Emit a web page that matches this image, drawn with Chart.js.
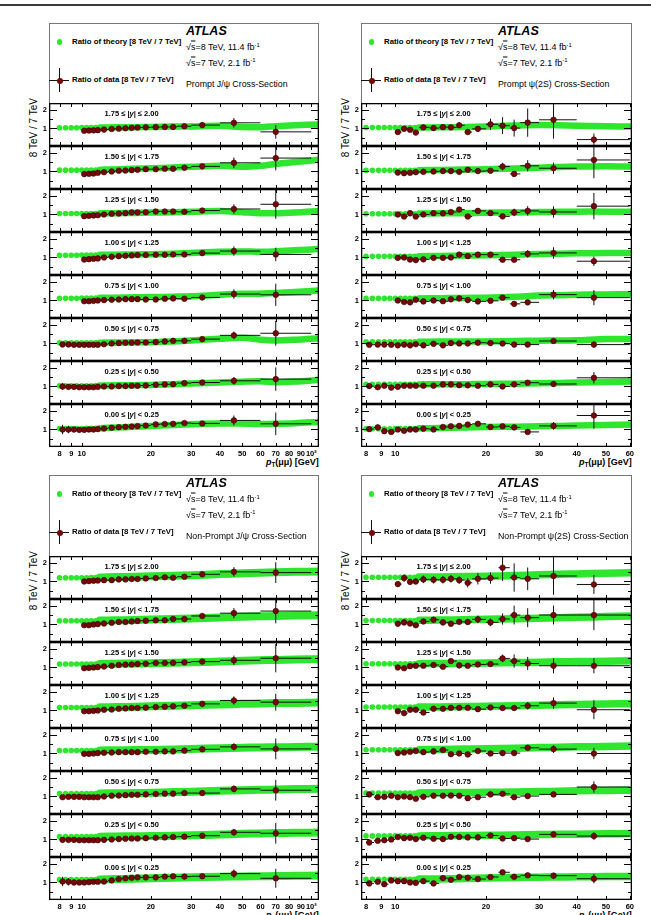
<!DOCTYPE html>
<html>
<head>
<meta charset="utf-8">
<script src="https://cdn.jsdelivr.net/npm/chart.js@4"></script>
<style>
  body { margin: 0; background: #fff; }
  #page { position: relative; width: 651px; height: 915px; overflow: hidden; font-family: "Liberation Sans", Arial, Helvetica, sans-serif; color: #000; }
  .t { position: absolute; white-space: nowrap; line-height: 1; transform: translateY(-50%); }
  canvas { position: absolute; }
  sup { font-size: 65%; vertical-align: 0; position: relative; top: -0.55em; }
</style>
</head>
<body>
<div id="page"></div>
<script>
// rapidity slices, top row first
const rapidityLow = ["1.75", "1.50", "1.25", "1.00", "0.75", "0.50", "0.25", "0.00"];
const rapidityHigh = ["2.00", "1.75", "1.50", "1.25", "1.00", "0.75", "0.50", "0.25"];

// pT bins (GeV)
const jpsiPt = [8.25, 8.75, 9.25, 9.75, 10.25, 10.75, 11.25, 11.75, 12.5, 13.5, 14.5, 15.5, 16.5, 17.5, 19, 21, 23, 25, 28, 33.5, 46, 70];
const jpsiPtLow = [8, 8.5, 9, 9.5, 10, 10.5, 11, 11.5, 12, 13, 14, 15, 16, 17, 18, 20, 22, 24, 26, 30, 40, 60];
const jpsiPtHigh = [8.5, 9, 9.5, 10, 10.5, 11, 11.5, 12, 13, 14, 15, 16, 17, 18, 20, 22, 24, 26, 30, 40, 60, 100];
const psiPt = [8.2, 8.75, 9.2, 9.7, 10.2, 10.7, 11.2, 11.7, 12.4, 13.4, 14.4, 15.3, 16.3, 17.4, 18.8, 20.7, 22.7, 24.8, 27.5, 33.5, 45.6];
const psiPtLow = [8, 8.5, 9, 9.5, 10, 10.5, 11, 11.5, 12, 13, 14, 15, 16, 17, 18, 20, 22, 24, 26, 30, 40];
const psiPtHigh = [8.5, 9, 9.5, 10, 10.5, 11, 11.5, 12, 13, 14, 15, 16, 17, 18, 20, 22, 24, 26, 30, 40, 60];

// pT nodes of the theory ratio
const jpsiTheoryPt = [8, 8.5, 9, 9.5, 10, 10.5, 11, 11.5, 12, 14, 17, 20, 25, 30, 40, 50, 60, 70, 85, 108];
const psiTheoryPt = [8, 8.4, 8.8, 9.2, 9.6, 10, 10.4, 10.8, 11.2, 11.6, 12, 14, 17, 20, 25, 30, 35, 40, 50, 61];

const jpsiTicks = [8, 9, 10, 20, 30, 40, 50, 60, 70, 80, 90, 100];
const psiTicks = [8, 9, 10, 20, 30, 40, 50, 60];
const ratioTicks = [1, 2];

const n = null;

// Prompt J/psi
const promptJpsiRatio = [
  [n, n, n, n, 0.88, 0.89, 0.90, 0.91, 0.94, 0.97, 0.99, 1.01, 1.03, 1.05, 1.06, 1.07, 1.08, 1.08, 1.12, 1.18, 1.30, 0.82],
  [n, n, n, n, 0.86, 0.875, 0.89, 0.93, 0.96, 1.0, 1.04, 1.05, 1.07, 1.09, 1.12, 1.12, 1.14, 1.14, 1.20, 1.27, 1.46, 1.71],
  [n, n, n, n, 0.91, 0.93, 0.95, 0.96, 1.0, 1.04, 1.05, 1.07, 1.11, 1.11, 1.12, 1.16, 1.16, 1.16, 1.14, 1.21, 1.29, 1.54],
  [n, n, n, n, 0.89, 0.91, 0.93, 0.95, 1.0, 1.04, 1.07, 1.09, 1.11, 1.13, 1.13, 1.14, 1.14, 1.16, 1.16, 1.23, 1.34, 1.16],
  [n, n, n, n, 0.96, 0.96, 0.98, 1.0, 1.02, 1.04, 1.05, 1.07, 1.07, 1.07, 1.05, 1.05, 1.09, 1.11, 1.09, 1.16, 1.34, 1.30],
  [0.95, 0.95, 0.93, 0.93, 0.93, 0.93, 0.93, 0.93, 0.96, 1.0, 1.02, 1.04, 1.04, 1.05, 1.05, 1.07, 1.11, 1.14, 1.14, 1.23, 1.43, 1.54],
  [1.0, 0.98, 0.98, 0.96, 0.96, 0.96, 0.96, 0.98, 1.0, 1.0, 1.02, 1.02, 1.04, 1.04, 1.05, 1.09, 1.11, 1.12, 1.18, 1.21, 1.30, 1.39],
  [1.0, 1.0, 1.0, 0.98, 0.98, 1.0, 1.0, 1.02, 1.05, 1.09, 1.12, 1.14, 1.16, 1.18, 1.21, 1.27, 1.29, 1.30, 1.34, 1.32, 1.48, 1.30],
];
const promptJpsiErr = [
  [0, 0, 0, 0, .03, .03, .03, .03, .03, .03, .03, .03, .04, .04, .04, .05, .05, .06, .07, .14, .25, .36],
  [0, 0, 0, 0, .03, .03, .03, .03, .03, .03, .03, .04, .04, .04, .04, .05, .05, .06, .07, .10, .28, .65],
  [0, 0, 0, 0, .03, .03, .03, .03, .03, .03, .03, .04, .04, .04, .04, .05, .05, .05, .06, .10, .25, .77],
  [0, 0, 0, 0, .03, .03, .03, .03, .03, .03, .03, .04, .04, .04, .04, .05, .05, .05, .06, .10, .25, .36],
  [0, 0, 0, 0, .03, .03, .03, .03, .03, .03, .03, .04, .04, .04, .04, .05, .05, .05, .06, .09, .25, .59],
  [.06, .06, .05, .05, .04, .04, .04, .04, .03, .03, .03, .03, .03, .04, .04, .04, .05, .05, .06, .08, .20, .66],
  [.18, .14, .12, .10, .08, .07, .06, .05, .04, .04, .04, .04, .04, .04, .04, .05, .05, .05, .06, .08, .20, .62],
  [.25, .20, .15, .12, .10, .08, .07, .06, .05, .05, .04, .04, .04, .04, .04, .05, .05, .05, .06, .08, .26, .60],
];
const promptJpsiTheory = [
  [1.04, 1.04, 1.04, 1.04, 1.05, 1.05, 1.05, 1.05, 1.05, 1.06, 1.07, 1.08, 1.10, 1.11, 1.14, 1.08, 1.07, 1.12, 1.17, 1.21],
  [1.07, 1.07, 1.07, 1.07, 1.08, 1.08, 1.08, 1.08, 1.09, 1.11, 1.14, 1.17, 1.21, 1.25, 1.30, 1.25, 1.30, 1.40, 1.50, 1.62],
  [1.05, 1.05, 1.05, 1.05, 1.05, 1.05, 1.05, 1.05, 1.06, 1.07, 1.08, 1.10, 1.12, 1.14, 1.18, 1.12, 1.07, 1.06, 1.10, 1.18],
  [1.12, 1.12, 1.12, 1.12, 1.13, 1.13, 1.13, 1.13, 1.14, 1.15, 1.16, 1.17, 1.20, 1.24, 1.30, 1.32, 1.30, 1.33, 1.38, 1.45],
  [1.12, 1.12, 1.12, 1.12, 1.13, 1.13, 1.13, 1.13, 1.14, 1.15, 1.17, 1.18, 1.20, 1.22, 1.30, 1.35, 1.36, 1.39, 1.45, 1.53],
  [1.04, 1.04, 1.04, 1.04, 1.04, 1.04, 1.04, 1.04, 1.04, 1.05, 1.06, 1.07, 1.11, 1.16, 1.25, 1.30, 1.20, 1.16, 1.20, 1.28],
  [1.04, 1.04, 1.04, 1.04, 1.04, 1.04, 1.04, 1.05, 1.05, 1.06, 1.07, 1.08, 1.12, 1.16, 1.21, 1.25, 1.27, 1.22, 1.26, 1.35],
  [1.05, 1.05, 1.05, 1.05, 1.05, 1.06, 1.06, 1.06, 1.07, 1.10, 1.14, 1.18, 1.24, 1.28, 1.31, 1.32, 1.29, 1.30, 1.33, 1.40],
];

// Non-prompt J/psi
const nonPromptJpsiRatio = [
  [n, n, n, n, 1.0, 1.02, 1.04, 1.05, 1.07, 1.07, 1.11, 1.11, 1.13, 1.13, 1.16, 1.18, 1.22, 1.20, 1.25, 1.38, 1.51, 1.47],
  [n, n, n, n, 0.96, 0.96, 1.0, 1.02, 1.05, 1.09, 1.13, 1.13, 1.16, 1.18, 1.20, 1.22, 1.22, 1.29, 1.29, 1.45, 1.60, 1.71],
  [n, n, n, n, 0.96, 0.98, 1.0, 1.02, 1.05, 1.09, 1.13, 1.15, 1.16, 1.18, 1.20, 1.24, 1.24, 1.25, 1.27, 1.31, 1.38, 1.49],
  [n, n, n, n, 0.96, 0.96, 0.98, 1.0, 1.04, 1.05, 1.09, 1.11, 1.13, 1.13, 1.15, 1.18, 1.20, 1.22, 1.25, 1.35, 1.53, 1.44],
  [n, n, n, n, 0.98, 0.98, 1.0, 1.02, 1.04, 1.05, 1.07, 1.07, 1.07, 1.07, 1.09, 1.09, 1.11, 1.11, 1.15, 1.22, 1.35, 1.24],
  [0.96, 0.98, 0.98, 0.98, 0.96, 0.96, 0.96, 0.96, 1.0, 1.04, 1.05, 1.07, 1.09, 1.09, 1.11, 1.13, 1.15, 1.15, 1.18, 1.18, 1.40, 1.33],
  [0.98, 0.98, 0.98, 0.96, 0.96, 0.96, 0.96, 0.96, 0.98, 1.0, 1.02, 1.04, 1.05, 1.05, 1.07, 1.09, 1.11, 1.13, 1.15, 1.20, 1.38, 1.33],
  [1.05, 1.04, 1.0, 1.0, 1.0, 1.02, 1.04, 1.04, 1.05, 1.11, 1.18, 1.22, 1.25, 1.27, 1.27, 1.27, 1.31, 1.33, 1.31, 1.33, 1.47, 1.22],
];
const nonPromptJpsiErr = [
  [0, 0, 0, 0, .04, .04, .04, .04, .04, .04, .04, .04, .05, .05, .05, .06, .06, .07, .12, .15, .25, .55],
  [0, 0, 0, 0, .04, .04, .04, .04, .04, .04, .04, .04, .05, .05, .05, .06, .06, .07, .10, .12, .27, .65],
  [0, 0, 0, 0, .04, .04, .04, .04, .04, .04, .04, .04, .05, .05, .05, .06, .06, .07, .08, .10, .25, .75],
  [0, 0, 0, 0, .04, .04, .04, .04, .04, .04, .04, .04, .05, .05, .05, .06, .06, .07, .10, .12, .22, .45],
  [0, 0, 0, 0, .04, .04, .04, .04, .04, .04, .04, .04, .05, .05, .05, .05, .06, .06, .07, .08, .18, .55],
  [.10, .08, .07, .06, .05, .05, .05, .04, .04, .04, .04, .04, .04, .04, .05, .05, .05, .05, .06, .08, .18, .55],
  [.15, .12, .10, .08, .07, .06, .05, .05, .04, .04, .04, .04, .04, .04, .05, .05, .05, .05, .06, .08, .18, .55],
  [.25, .20, .15, .12, .10, .08, .07, .06, .05, .05, .05, .05, .05, .05, .05, .05, .05, .06, .06, .08, .22, .50],
];
const nonPromptJpsiTheory = [
  [1.20, 1.20, 1.20, 1.20, 1.20, 1.20, 1.21, 1.21, 1.21, 1.23, 1.25, 1.27, 1.30, 1.33, 1.39, 1.43, 1.46, 1.49, 1.51, 1.53],
  [1.20, 1.20, 1.20, 1.20, 1.20, 1.20, 1.20, 1.20, 1.21, 1.22, 1.24, 1.26, 1.29, 1.32, 1.37, 1.41, 1.43, 1.45, 1.47, 1.49],
  [1.18, 1.18, 1.18, 1.18, 1.18, 1.18, 1.18, 1.18, 1.19, 1.20, 1.21, 1.22, 1.25, 1.27, 1.32, 1.35, 1.38, 1.40, 1.42, 1.44],
  [1.16, 1.16, 1.16, 1.16, 1.16, 1.16, 1.16, 1.16, 1.17, 1.18, 1.20, 1.22, 1.25, 1.28, 1.32, 1.35, 1.37, 1.39, 1.40, 1.42],
  [1.16, 1.16, 1.16, 1.16, 1.16, 1.16, 1.16, 1.16, 1.16, 1.17, 1.18, 1.19, 1.21, 1.24, 1.28, 1.30, 1.32, 1.33, 1.34, 1.36],
  [1.15, 1.15, 1.15, 1.15, 1.15, 1.15, 1.15, 1.15, 1.16, 1.17, 1.18, 1.20, 1.23, 1.25, 1.30, 1.33, 1.35, 1.37, 1.39, 1.41],
  [1.15, 1.15, 1.15, 1.15, 1.15, 1.15, 1.15, 1.15, 1.15, 1.16, 1.17, 1.18, 1.20, 1.22, 1.26, 1.30, 1.32, 1.34, 1.35, 1.37],
  [1.15, 1.15, 1.15, 1.15, 1.15, 1.15, 1.15, 1.15, 1.16, 1.18, 1.20, 1.22, 1.25, 1.27, 1.30, 1.32, 1.33, 1.34, 1.35, 1.37],
];

// Prompt psi(2S)
const promptPsiRatio = [
  [n, n, n, n, 0.81, 0.98, 0.93, 0.78, 1.06, 1.02, 1.07, 1.06, 1.17, 0.81, 0.98, 1.22, 1.15, 1.02, 1.31, 1.46, 0.41],
  [n, n, n, n, 0.94, 0.91, 0.93, 0.96, 0.98, 1.0, 1.02, 1.02, 0.98, 1.09, 1.02, 1.04, 1.26, 0.87, 1.30, 1.17, 1.61],
  [n, n, n, n, 1.0, 0.89, 1.07, 0.89, 1.0, 1.07, 1.06, 1.13, 1.26, 0.89, 1.19, 1.07, 0.90, 1.11, 1.19, 1.13, 1.44],
  [n, n, n, n, 0.98, 1.0, 0.89, 0.86, 0.90, 0.98, 0.98, 1.0, 1.15, 1.07, 1.15, 1.15, 0.88, 0.88, 1.19, 1.24, 0.80],
  [n, n, n, n, 1.0, 0.92, 0.90, 1.04, 0.95, 1.0, 0.96, 1.06, 1.11, 1.02, 0.95, 0.98, 1.15, 0.82, 0.90, 1.31, 1.15],
  [0.93, 0.94, 0.94, 0.93, 0.90, 0.94, 0.90, 0.96, 0.90, 0.98, 0.90, 1.02, 1.0, 1.0, 1.04, 1.02, 1.0, 0.94, 0.94, 1.13, 0.94],
  [1.02, 0.96, 1.04, 0.94, 0.98, 1.04, 1.04, 1.04, 1.04, 1.04, 1.11, 1.11, 1.07, 1.06, 1.04, 1.11, 1.0, 1.11, 1.20, 1.13, 1.46],
  [1.02, 1.11, 0.91, 0.87, 1.0, 0.93, 1.0, 1.0, 1.04, 1.0, 1.13, 1.17, 1.19, 1.26, 1.30, 1.13, 1.17, 1.11, 0.87, 1.19, 1.74],
];
const promptPsiErr = [
  [0, 0, 0, 0, .08, .09, .09, .09, .10, .10, .12, .12, .15, .12, .15, .30, .45, .45, .75, 1.0, .32],
  [0, 0, 0, 0, .07, .07, .07, .07, .08, .08, .08, .09, .09, .10, .10, .12, .20, .15, .30, .30, .97],
  [0, 0, 0, 0, .07, .06, .07, .07, .07, .08, .08, .08, .10, .08, .10, .12, .10, .20, .25, .30, .70],
  [0, 0, 0, 0, .07, .07, .07, .07, .07, .08, .08, .08, .09, .09, .10, .10, .10, .10, .20, .30, .25],
  [0, 0, 0, 0, .07, .07, .07, .07, .07, .07, .07, .08, .08, .08, .08, .08, .09, .09, .10, .25, .40],
  [.07, .06, .06, .06, .05, .05, .05, .05, .05, .05, .05, .05, .05, .05, .06, .06, .06, .07, .07, .12, .15],
  [.12, .10, .10, .08, .07, .07, .07, .07, .07, .07, .07, .07, .07, .07, .07, .08, .08, .09, .12, .15, .30],
  [.15, .14, .12, .10, .10, .08, .08, .08, .08, .08, .08, .08, .08, .08, .10, .08, .08, .09, .05, .20, .70],
];
const promptPsiTheory = [
  [1.05, 1.05, 1.05, 1.05, 1.05, 1.05, 1.05, 1.05, 1.05, 1.05, 1.05, 1.06, 1.08, 1.11, 1.16, 1.18, 1.17, 1.15, 1.12, 1.10],
  [1.06, 1.06, 1.06, 1.06, 1.06, 1.06, 1.06, 1.06, 1.06, 1.06, 1.07, 1.08, 1.10, 1.12, 1.16, 1.20, 1.24, 1.26, 1.28, 1.26],
  [1.04, 1.04, 1.04, 1.04, 1.04, 1.04, 1.04, 1.04, 1.04, 1.04, 1.05, 1.06, 1.07, 1.09, 1.11, 1.13, 1.14, 1.15, 1.15, 1.15],
  [1.06, 1.06, 1.06, 1.06, 1.06, 1.06, 1.06, 1.06, 1.06, 1.06, 1.07, 1.08, 1.10, 1.12, 1.15, 1.18, 1.20, 1.22, 1.23, 1.24],
  [1.11, 1.11, 1.11, 1.11, 1.11, 1.11, 1.11, 1.11, 1.11, 1.11, 1.11, 1.12, 1.13, 1.15, 1.20, 1.26, 1.28, 1.30, 1.32, 1.33],
  [1.09, 1.09, 1.09, 1.09, 1.09, 1.09, 1.09, 1.09, 1.09, 1.09, 1.09, 1.10, 1.10, 1.11, 1.13, 1.15, 1.16, 1.17, 1.24, 1.23],
  [1.11, 1.11, 1.11, 1.11, 1.11, 1.11, 1.11, 1.11, 1.11, 1.11, 1.11, 1.12, 1.12, 1.13, 1.15, 1.17, 1.19, 1.21, 1.24, 1.26],
  [1.04, 1.04, 1.04, 1.04, 1.04, 1.05, 1.05, 1.05, 1.05, 1.05, 1.06, 1.08, 1.11, 1.13, 1.15, 1.17, 1.19, 1.21, 1.24, 1.26],
];

// Non-prompt psi(2S)
const nonPromptPsiRatio = [
  [n, n, n, n, 0.86, 1.18, 0.98, 1.0, 1.11, 1.09, 1.09, 1.14, 1.07, 0.93, 1.14, 1.18, 1.73, 1.21, 1.14, 1.29, 0.84],
  [n, n, n, n, 1.04, 1.11, 1.05, 0.96, 1.16, 1.25, 1.11, 1.04, 1.14, 1.13, 1.27, 1.11, 1.29, 1.50, 1.36, 1.50, 1.50],
  [n, n, n, n, 1.0, 0.96, 1.07, 1.09, 1.09, 1.13, 1.04, 1.34, 1.11, 1.09, 1.16, 1.18, 1.48, 1.34, 1.21, 1.09, 1.09],
  [n, n, n, n, 0.96, 0.86, 1.04, 1.04, 0.89, 1.09, 1.09, 1.14, 1.14, 1.14, 1.07, 1.16, 1.13, 1.13, 1.25, 1.39, 1.04],
  [n, n, n, n, 1.02, 1.05, 1.09, 1.13, 1.07, 1.11, 1.18, 0.96, 1.0, 0.95, 1.13, 1.0, 1.02, 1.02, 1.30, 1.23, 1.0],
  [1.11, 0.96, 0.98, 1.04, 0.96, 1.0, 0.96, 0.88, 0.98, 1.04, 1.04, 1.05, 1.04, 0.91, 0.96, 1.11, 1.14, 0.96, 1.02, 1.11, 1.50],
  [0.84, 0.93, 0.96, 1.0, 1.13, 1.07, 1.09, 1.02, 1.09, 1.04, 1.02, 1.14, 1.13, 1.11, 1.11, 1.21, 1.05, 1.07, 1.02, 1.27, 1.18],
  [0.95, 1.04, 0.91, 1.11, 1.07, 1.07, 1.0, 0.98, 1.07, 0.95, 1.23, 1.14, 1.29, 1.25, 1.18, 1.29, 1.54, 1.30, 1.38, 1.36, 1.20],
];
const nonPromptPsiErr = [
  [0, 0, 0, 0, .12, .20, .15, .15, .20, .20, .20, .20, .20, .25, .30, .30, .70, .75, .60, 1.0, .50],
  [0, 0, 0, 0, .10, .15, .12, .12, .12, .15, .15, .15, .15, .15, .20, .20, .30, .50, .50, .50, .80],
  [0, 0, 0, 0, .08, .10, .10, .10, .10, .10, .10, .12, .12, .12, .12, .12, .20, .35, .35, .40, .40],
  [0, 0, 0, 0, .10, .08, .10, .10, .10, .10, .10, .10, .10, .10, .10, .10, .12, .15, .20, .30, .50],
  [0, 0, 0, 0, .07, .07, .07, .07, .07, .07, .07, .07, .07, .08, .08, .08, .10, .10, .12, .20, .30],
  [.12, .10, .08, .08, .07, .07, .07, .07, .07, .07, .07, .07, .07, .07, .08, .08, .08, .09, .10, .12, .30],
  [.15, .12, .12, .10, .10, .08, .08, .08, .08, .08, .08, .08, .08, .08, .08, .09, .09, .10, .10, .12, .20],
  [.15, .12, .12, .10, .10, .08, .08, .08, .08, .08, .08, .08, .08, .08, .08, .09, .10, .10, .10, .15, .25],
];
const nonPromptPsiTheory = [
  [1.22, 1.22, 1.22, 1.22, 1.22, 1.22, 1.22, 1.22, 1.22, 1.22, 1.23, 1.24, 1.26, 1.28, 1.31, 1.35, 1.38, 1.40, 1.44, 1.46],
  [1.21, 1.21, 1.21, 1.21, 1.21, 1.21, 1.21, 1.21, 1.21, 1.21, 1.22, 1.23, 1.25, 1.27, 1.30, 1.33, 1.36, 1.38, 1.42, 1.45],
  [1.20, 1.20, 1.20, 1.20, 1.20, 1.20, 1.20, 1.20, 1.20, 1.20, 1.20, 1.21, 1.22, 1.24, 1.26, 1.28, 1.30, 1.31, 1.33, 1.35],
  [1.18, 1.18, 1.18, 1.18, 1.18, 1.18, 1.18, 1.18, 1.18, 1.18, 1.18, 1.19, 1.21, 1.22, 1.25, 1.28, 1.30, 1.32, 1.34, 1.36],
  [1.20, 1.20, 1.20, 1.20, 1.20, 1.20, 1.20, 1.20, 1.20, 1.20, 1.20, 1.21, 1.23, 1.25, 1.28, 1.31, 1.33, 1.35, 1.37, 1.39],
  [1.18, 1.18, 1.18, 1.18, 1.18, 1.18, 1.18, 1.18, 1.18, 1.18, 1.19, 1.20, 1.21, 1.22, 1.24, 1.26, 1.28, 1.30, 1.32, 1.33],
  [1.19, 1.19, 1.19, 1.19, 1.19, 1.19, 1.19, 1.19, 1.19, 1.19, 1.19, 1.20, 1.21, 1.22, 1.24, 1.26, 1.27, 1.28, 1.30, 1.31],
  [1.17, 1.17, 1.17, 1.17, 1.17, 1.17, 1.17, 1.17, 1.17, 1.17, 1.18, 1.19, 1.21, 1.23, 1.26, 1.28, 1.29, 1.30, 1.31, 1.32],
];

const FONT = '"Liberation Sans", Arial, Helvetica, sans-serif';
const GREEN = "#2ee62e";
const MARKER = "#740909";
const ROW_H = 43;

const panels = [
  { title: "Prompt J/\u03c8 Cross-Section", x0: 0, left: 49, right: 319, legendTop: 23, stackTop: 103,
    pt: jpsiPt, lo: jpsiPtLow, hi: jpsiPtHigh, tPt: jpsiTheoryPt, ticks: jpsiTicks, xMin: 7.2, xMax: 108,
    ratio: promptJpsiRatio, err: promptJpsiErr, theory: promptJpsiTheory, band: 6.5 },
  { title: "Prompt \u03c8(2S) Cross-Section", x0: 330, left: 361, right: 632, legendTop: 23, stackTop: 103,
    pt: psiPt, lo: psiPtLow, hi: psiPtHigh, tPt: psiTheoryPt, ticks: psiTicks, xMin: 7.7, xMax: 61,
    ratio: promptPsiRatio, err: promptPsiErr, theory: promptPsiTheory, band: 6.5 },
  { title: "Non-Prompt J/\u03c8 Cross-Section", x0: 0, left: 49, right: 319, legendTop: 475, stackTop: 556,
    pt: jpsiPt, lo: jpsiPtLow, hi: jpsiPtHigh, tPt: jpsiTheoryPt, ticks: jpsiTicks, xMin: 7.2, xMax: 108,
    ratio: nonPromptJpsiRatio, err: nonPromptJpsiErr, theory: nonPromptJpsiTheory, band: 8 },
  { title: "Non-Prompt \u03c8(2S) Cross-Section", x0: 330, left: 361, right: 632, legendTop: 475, stackTop: 556,
    pt: psiPt, lo: psiPtLow, hi: psiPtHigh, tPt: psiTheoryPt, ticks: psiTicks, xMin: 7.7, xMax: 61,
    ratio: nonPromptPsiRatio, err: nonPromptPsiErr, theory: nonPromptPsiTheory, band: 7.5 },
];

const page = document.getElementById("page");

function addText(html, x, y, css) {
  const d = document.createElement("div");
  d.className = "t";
  d.style.left = x + "px";
  d.style.top = y + "px";
  d.style.cssText += css || "";
  d.innerHTML = html;
  page.appendChild(d);
  return d;
}

function addBox(x, y, w, h, css) {
  const d = document.createElement("div");
  d.style.cssText = `position:absolute;left:${x}px;top:${y}px;width:${w}px;height:${h}px;` + css;
  page.appendChild(d);
  return d;
}

// error bars drawn under the data markers
const errorBars = {
  id: "errorBars",
  beforeDatasetDraw(chart, args) {
    const ds = chart.data.datasets[args.index];
    if (!ds.errY) return;
    const { ctx, chartArea: a, scales: { x, y } } = chart;
    ctx.save();
    ctx.beginPath();
    ctx.rect(a.left, a.top, a.width, a.height);
    ctx.clip();
    ctx.strokeStyle = "#111";
    ctx.lineWidth = 1;
    ctx.beginPath();
    ds.data.forEach((p, i) => {
      const px = x.getPixelForValue(p.x);
      const py = y.getPixelForValue(p.y);
      ctx.moveTo(x.getPixelForValue(ds.errLo[i]), py);
      ctx.lineTo(x.getPixelForValue(ds.errHi[i]), py);
      ctx.moveTo(px, y.getPixelForValue(p.y - ds.errY[i]));
      ctx.lineTo(px, y.getPixelForValue(p.y + ds.errY[i]));
    });
    ctx.stroke();
    ctx.restore();
  },
};

// ROOT-like frame with inward ticks
const frame = {
  id: "frame",
  afterDraw(chart) {
    const { ctx, chartArea: a, scales: { x, y } } = chart;
    ctx.save();
    ctx.strokeStyle = "#000";
    ctx.lineWidth = 1;
    ctx.beginPath();
    [[1, 8], [2, 8], [0.5, 4], [1.5, 4]].forEach(([v, len]) => {
      const py = Math.round(y.getPixelForValue(v)) + 0.5;
      ctx.moveTo(a.left, py); ctx.lineTo(a.left + len, py);
      ctx.moveTo(a.right, py); ctx.lineTo(a.right - len, py);
    });
    x.ticks.forEach((t) => {
      const px = Math.round(x.getPixelForValue(t.value)) + 0.5;
      ctx.moveTo(px, a.top); ctx.lineTo(px, a.top + 4);
      ctx.moveTo(px, a.bottom); ctx.lineTo(px, a.bottom - 4);
    });
    ctx.stroke();
    ctx.lineWidth = 1.3;
    ctx.strokeRect(a.left + 0.65, a.top + 0.65, a.width - 1.3, a.height - 1.3);
    ctx.restore();
  },
};

const tickFont = { family: FONT, weight: "bold", size: 7.5 };

panels.forEach((P) => {
  const L = P.left, T = P.legendTop;

  // legend box
  addBox(L, T, P.right - L, P.stackTop - T, "box-sizing:border-box;border:1px solid #777;border-bottom:none;");
  addBox(L + 10.5 - 2.8, T + 19 - 2.8, 5.6, 5.6, `border-radius:50%;background:${GREEN};`);
  addText("Ratio of theory [8 TeV / 7 TeV]", L + 23, T + 19, "font-weight:bold;font-size:7.8px;");
  addBox(L + 10, T + 45, 1, 24, "background:#111;");
  addBox(L, T + 57, 20, 1, "background:#111;");
  addBox(L + 10.5 - 3, T + 57.5 - 3, 6, 6, `border-radius:50%;background:${MARKER};`);
  addText("Ratio of data [8 TeV / 7 TeV]", L + 23, T + 57, "font-weight:bold;font-size:7.8px;");
  addText("ATLAS", L + 137, T + 7.5, "font-weight:bold;font-style:italic;font-size:12.5px;");
  const sqrtS = '\u221a<span style="text-decoration:overline">s</span>';
  addText(sqrtS + "=8 TeV, 11.4 fb<sup>-1</sup>", L + 137, T + 24, "font-size:9px;");
  addText(sqrtS + "=7 TeV, 2.1 fb<sup>-1</sup>", L + 137, T + 39.5, "font-size:9px;");
  addText(P.title, L + 137, T + 61, "font-size:8.8px;");

  // y title
  const yt = document.createElement("div");
  yt.textContent = "8 TeV / 7 TeV";
  yt.style.cssText = `position:absolute;left:${L - 20}px;top:${P.stackTop - 5}px;font-size:10px;line-height:1;` +
    "writing-mode:vertical-rl;transform:rotate(180deg);white-space:nowrap;";
  page.appendChild(yt);

  // x title
  const stackBottom = P.stackTop + 8 * ROW_H;
  const xt = addText('<i>p</i><sub style="font-size:70%;vertical-align:-2px">T</sub>(\u03bc\u03bc) [GeV]', 0, stackBottom + 16,
    "font-weight:bold;font-size:9px;");
  xt.style.left = (P.right - xt.offsetWidth) + "px";

  for (let r = 0; r < 8; r++) {
    const isBottom = r === 7;
    const top = P.stackTop + r * ROW_H;
    const canvas = document.createElement("canvas");
    const width = (P.x0 === 0 ? 330 : 651) - P.x0;
    const height = ROW_H + (isBottom ? 16 : 0);
    canvas.width = width;
    canvas.height = height;
    canvas.style.left = P.x0 + "px";
    canvas.style.top = top + "px";
    page.appendChild(canvas);

    const pts = [], errY = [], errLo = [], errHi = [];
    P.ratio[r].forEach((v, i) => {
      if (v === null) return;
      pts.push({ x: P.pt[i], y: v });
      errY.push(P.err[r][i]);
      errLo.push(P.lo[i]);
      errHi.push(P.hi[i]);
    });
    const theoryPts = P.tPt.map((x, i) => ({ x, y: P.theory[r][i] }));

    new Chart(canvas, {
      type: "scatter",
      data: {
        datasets: [
          {
            type: "scatter",
            data: pts,
            errY, errLo, errHi,
            pointRadius: 2.8,
            pointBackgroundColor: MARKER,
            pointBorderColor: "#3a0000",
            pointBorderWidth: 0.6,
            order: 1,
          },
          {
            type: "line",
            data: theoryPts,
            borderColor: GREEN,
            borderWidth: P.band,
            borderCapStyle: "round",
            borderJoinStyle: "round",
            tension: 0.3,
            pointRadius: 2.8,
            pointBorderWidth: 0,
            pointBackgroundColor: GREEN,
            segment: {
              borderColor: (c) => (c.p0.parsed.x < 11.9 ? "rgba(0,0,0,0)" : undefined),
            },
            order: 2,
          },
        ],
      },
      options: {
        responsive: false,
        animation: false,
        events: [],
        layout: { padding: { left: 0, right: width - (P.right - P.x0), top: 0, bottom: 0 }, autoPadding: false },
        plugins: { legend: { display: false }, tooltip: { enabled: false } },
        scales: {
          x: {
            type: "logarithmic",
            min: P.xMin,
            max: P.xMax,
            display: isBottom,
            grid: { display: false, drawTicks: false },
            border: { display: false },
            afterBuildTicks: (s) => { s.ticks = P.ticks.map((v) => ({ value: v })); },
            afterFit: (s) => {
              s.height = isBottom ? 16 : 0;
              s.paddingLeft = s.paddingRight = s.paddingTop = s.paddingBottom = 0;
            },
            ticks: {
              autoSkip: false,
              maxRotation: 0,
              padding: 2,
              color: "#000",
              font: tickFont,
              callback: (v) => (v === 100 ? "10\u00b2" : String(v)),
            },
          },
          y: {
            min: 0.07,
            max: 2.35,
            grid: { display: false, drawTicks: false },
            border: { display: false },
            afterBuildTicks: (s) => { s.ticks = ratioTicks.map((v) => ({ value: v })); },
            afterFit: (s) => {
              s.width = P.left - P.x0;
              s.paddingLeft = s.paddingRight = s.paddingTop = s.paddingBottom = 0;
            },
            ticks: { padding: 2, color: "#000", font: tickFont },
          },
        },
      },
      plugins: [errorBars, frame],
    });

    const sym = r === 0 ? "\u2264" : "&lt;";
    addText(`${rapidityLow[r]} \u2264 |<i>y</i>| ${sym} ${rapidityHigh[r]}`, L + 55.5, top + 10.5,
      "font-weight:bold;font-size:7.5px;");
  }
});

// top rule of the page
addBox(0, 4, 651, 2, "background:#3c3c3c;");
</script>
</body>
</html>
